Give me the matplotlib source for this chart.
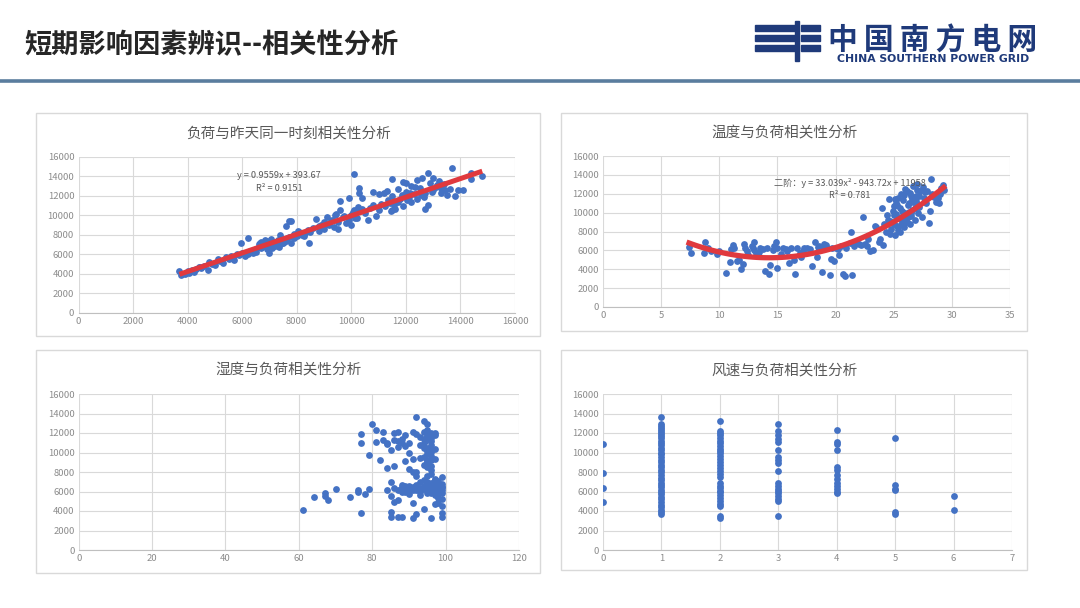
import matplotlib
matplotlib.use('Agg')
import matplotlib.pyplot as plt
import numpy as np
from matplotlib.patches import Rectangle

plt.rcParams['font.family'] = ['Noto Sans CJK SC', 'DejaVu Sans']

# ---------------- 数据 ----------------
# 负荷与昨天同一时刻
lag_x = [3700, 3750, 3800, 3900, 4000, 4050, 4150, 4250, 4300, 4400, 4500, 4600, 4750, 4800, 4900,
         5000, 5100, 5200, 5300, 5400, 5500, 5600, 5700, 5800, 5900, 5950, 6000, 6100, 6200, 6230,
         6300, 6400, 6500, 6500, 6600, 6600, 6700, 6700, 6800, 6800, 6850, 6900, 6900, 7000, 7000,
         7000, 7050, 7100, 7100, 7200, 7200, 7300, 7300, 7350, 7400, 7400, 7500, 7500, 7600, 7600,
         7700, 7800, 7700, 7800, 7900, 7900, 8000, 8100, 8200, 8300, 8400, 8450, 8500, 8600, 8700,
         8800, 8900, 9000, 9000, 9100, 9200, 9300, 9400, 9500, 9500, 9600, 9600, 9700, 9800, 9900,
         9900, 10000, 10000, 10100, 10100, 10200, 10300, 10300, 10300, 10400, 10400, 10500, 10600,
         10700, 10800, 10800, 10900, 11000, 11000, 11100, 11200, 11300, 11400, 11500, 11500, 11500,
         11600, 11700, 11700, 11800, 11900, 11900, 12000, 12000, 12100, 12200, 12200, 12300, 12400,
         12400, 12500, 12600, 12700, 12700, 12800, 12800, 12900, 13000, 13000, 13100, 13200, 13300,
         13300, 13400, 13500, 13600, 13700, 13800, 13900, 14100, 14400, 14400, 14800,
         6650, 6950, 7150, 7250, 7450, 9150, 9350, 9750, 10150, 11250, 11450, 12050, 12150, 12650,
         6750, 6900, 7050, 7200, 7350, 7550, 7650, 8050, 8250, 8800, 9250, 9450, 10050, 10250,
         11350, 11550, 11850, 12350, 12550, 13150, 13450, 12950, 5650, 5250, 4450]
lag_y = [4250, 3850, 4000, 3950, 4300, 4100, 4400, 4200, 4500, 4700, 4600, 4800, 4400, 5200, 5000,
         4900, 5500, 5300, 5100, 5700, 5500, 5800, 5400, 6000, 5900, 7200, 6100, 5800, 6000, 7650,
         6300, 6100, 6500, 6200, 6700, 7000, 7300, 6600, 7200, 6800, 7500, 6500, 7000, 7300, 6100,
         6800, 7600, 7000, 6600, 7200, 6800, 7500, 7000, 6700, 7300, 8000, 7100, 7600, 8900, 7400,
         9400, 9400, 7800, 7200, 7700, 8100, 7900, 8300, 8000, 8200, 8500, 7200, 8300, 8700, 9600,
         8400, 9000, 8600, 9300, 9800, 9000, 9500, 10000, 8600, 9300, 11500, 10500, 9800, 9200, 11800,
         9500, 10000, 9000, 14200, 10500, 9700, 12800, 12300, 10400, 11800, 10700, 10200, 9500,
         10800, 12400, 11100, 9900, 12200, 10500, 11200, 12300, 12500, 11300, 10500, 13700, 12000,
         10700, 12700, 11400, 11700, 13400, 11000, 12400, 13300, 11900, 13000, 11400, 12200, 13600,
         11700, 12800, 13800, 10700, 12300, 14400, 11100, 13300, 13800, 12600, 12900, 13500, 12300,
         12800, 13200, 12100, 12700, 14900, 12000, 12600, 12600, 14400, 13700, 14000,
         7100, 6900, 7300, 6900, 7200, 9100, 8800, 9900, 9700, 11000, 10400, 11600, 12300, 11900,
         6900, 7400, 6700, 7000, 7100, 7300, 7700, 8400, 7900, 8900, 9400, 10100, 10300, 10900,
         11600, 11100, 12100, 12900, 12100, 13100, 12600, 12400, 5700, 5300, 4700]
lag_coef = [0.9559, 393.67]

# 温度与负荷
temp_x = [7.4, 7.6, 8.7, 8.8, 9.0, 9.3, 9.8, 10.0, 10.6, 10.9, 11.2, 11.3, 11.5, 11.7, 11.9, 12.0,
          12.1, 12.2, 12.5, 12.8, 13.0, 13.0, 13.2, 13.5, 13.8, 13.9, 14.1, 14.3, 14.4, 14.7, 14.9,
          15.0, 15.0, 15.5, 15.8, 16.0, 16.2, 16.4, 16.5, 16.7, 17.0, 17.2, 17.5, 18.0, 18.2, 18.4,
          18.6, 18.8, 19.0, 19.3, 19.5, 19.6, 19.9, 20.0, 20.3, 20.5, 20.6, 20.8, 21.2, 21.3, 21.4,
          21.6, 22.0, 22.4, 22.5, 22.8, 23.0, 23.2, 23.5, 23.8, 24.0, 24.1, 24.3, 24.5, 24.6, 24.7,
          24.9, 25.0, 25.1, 25.2, 25.3, 25.4, 25.5, 25.6, 25.7, 25.8, 25.9, 26.0, 26.1, 26.2, 26.3,
          26.4, 26.5, 26.6, 26.7, 26.8, 26.9, 27.0, 27.1, 27.3, 27.4, 27.6, 27.8, 28.0, 28.1, 28.2,
          28.4, 28.6, 28.8, 29.0, 29.2, 29.3, 28.9, 25.3, 25.8, 26.2, 26.5, 24.8, 25.5, 26.0, 27.2,
          27.5, 26.8, 25.0, 24.2, 11.0, 12.4, 13.4, 15.3, 16.9, 17.8, 18.9, 19.7, 20.2, 21.8, 22.2,
          23.4, 25.1, 25.6, 26.3, 26.7, 27.0, 27.7, 28.3, 28.7, 29.1,
          24.4, 24.7, 25.0, 25.2, 25.4, 25.7, 25.9, 26.1, 26.4, 26.6, 26.9, 27.2, 27.9, 28.5, 29.0,
          25.3, 25.6, 26.0, 26.5, 27.0, 12.9, 14.6, 15.7, 17.3, 18.5, 19.2, 20.9, 22.7, 23.7]
temp_y = [6400, 5700, 5700, 6900, 6200, 5900, 5600, 5900, 3600, 4800, 6600, 6300, 4900, 5000, 4000,
          4600, 6700, 6200, 5500, 6500, 6900, 6000, 5700, 6300, 6100, 3800, 6300, 3500, 4400, 6500,
          6900, 4100, 6300, 6200, 5900, 4700, 6300, 5000, 3500, 6200, 5300, 5900, 6200, 4300, 6900,
          5300, 6500, 3700, 6700, 6300, 3400, 5100, 4900, 6300, 5500, 6500, 3500, 3300, 6800, 7900,
          3400, 6500, 6700, 9500, 6700, 7200, 5900, 6000, 8500, 7200, 10500, 6600, 8000, 9200, 11400,
          7700, 10200, 8800, 7600, 11000, 9500, 8200, 10500, 12000, 9000, 11300, 8500, 10000, 12300,
          9500, 11000, 8800, 11800, 10300, 12800, 9200, 11200, 13000, 10000, 12300, 9500, 11600, 11000,
          8900, 10200, 13600, 11800, 11100, 11500, 12200, 12900, 12400, 11000, 10800, 9800, 10800, 9600,
          8300, 8000, 12500, 11800, 12700, 10500, 9800, 8800, 6100, 5900, 5800, 5600, 5700, 6100, 6300,
          6200, 6100, 6800, 6600, 8600, 11400, 9300, 10100, 11100, 10900, 12200, 12000, 11300, 12600,
          9700, 9100, 10700, 9900, 11600, 10200, 11900, 9000, 12100, 11400, 11800, 10600, 12300,
          11700, 12000, 8600, 8700, 9200, 10000, 12400, 6200, 6000, 6100, 6300, 6400, 6600, 6200,
          6500, 6900]
temp_coef = [33.039, -943.72, 11958]

# 湿度与负荷
hum_x = [61, 64, 67, 67, 68, 70, 74, 76, 76, 77, 77, 77, 78, 79, 79, 80, 81, 81, 82, 83, 83, 84, 84,
         84, 85, 85, 85, 85, 85, 86, 86, 86, 87, 87, 87, 87, 87, 88, 88, 88, 88, 89, 89, 89, 90, 90,
         90, 90, 90, 91, 91, 91, 91, 91, 92, 92, 92, 92, 92, 93, 93, 93, 93, 94, 94, 94, 94, 94, 94,
         94, 95, 95, 95, 95, 95, 95, 95, 96, 96, 96, 96, 96, 96, 96, 97, 97, 97, 97, 97, 97, 98, 98,
         98, 98, 99, 99, 99, 99, 99, 99, 99, 99, 93, 94, 95, 95, 96, 97, 93, 94, 95, 96, 97, 98, 92,
         90, 89, 88, 92, 91, 89, 88, 86, 84, 96, 95, 96, 97, 94, 95, 96, 98, 99,
         95, 95, 95, 96, 96, 96, 96, 95, 94, 97, 97, 98, 99, 93, 92, 91, 90, 89, 88, 87, 86]
hum_y = [4100, 5400, 5800, 5500, 5100, 6300, 5400, 6200, 5900, 11900, 11000, 3800, 5700, 9700, 6300,
         12900, 12300, 11100, 9200, 12100, 11300, 10900, 8400, 6200, 10300, 7000, 5500, 3900, 3400,
         12000, 8600, 4900, 12100, 11200, 10600, 5100, 3400, 11400, 6500, 6000, 3400, 11800, 9100,
         6300, 11000, 10000, 8300, 6600, 5700, 12100, 8000, 6200, 4800, 3300, 13600, 11900, 7600,
         6700, 3700, 11600, 9400, 6000, 5600, 13200, 12100, 10500, 8700, 7200, 6300, 4200, 12900,
         11300, 9800, 8500, 7000, 6500, 5800, 12000, 10800, 9200, 7800, 6900, 6100, 3300, 11800,
         10400, 9300, 6800, 5600, 4700, 6700, 6200, 5300, 4800, 7500, 6800, 6200, 5800, 5200, 4500,
         3800, 3400, 10800, 9500, 10200, 11700, 11500, 12000, 7000, 6600, 6200, 5800, 6300, 5700,
         6200, 6100, 5900, 6700, 8000, 9300, 10700, 11000, 11300, 11000, 8600, 9000, 10100, 7300,
         11400, 7600, 6400, 6500, 6500,
         10500, 9200, 8900, 10300, 9600, 8200, 11200, 12300, 11000, 6000, 7200, 7100, 6500, 6400,
         6300, 6500, 6400, 6600, 6300, 6200, 6400]

# 风速与负荷
wind_x = [0, 0, 0, 0,
          1, 1, 1, 1, 1, 1, 1, 1, 1, 1, 1, 1, 1, 1, 1, 1, 1, 1, 1, 1, 1, 1, 1, 1, 1, 1, 1, 1, 1, 1,
          1, 1, 1, 1, 1, 1, 1, 1, 1, 1,
          2, 2, 2, 2, 2, 2, 2, 2, 2, 2, 2, 2, 2, 2, 2, 2, 2, 2, 2, 2, 2, 2, 2, 2, 2, 2, 2, 2, 2, 2, 2,
          3, 3, 3, 3, 3, 3, 3, 3, 3, 3, 3, 3, 3, 3, 3, 3, 3, 3, 3,
          4, 4, 4, 4, 4, 4, 4, 4, 4, 4, 4, 4, 4,
          5, 5, 5, 5, 5, 5,
          6, 6]
wind_y = [10900, 7900, 6400, 4900,
          13600, 12900, 12700, 12500, 12300, 12100, 11900, 11700, 11500, 11200, 11000, 10800, 10500,
          10300, 10000, 9800, 9500, 9200, 9000, 8700, 8500, 8200, 8000, 7700, 7400, 7200, 6900, 6700,
          6500, 6200, 6000, 5700, 5400, 5200, 4900, 4600, 4400, 4100, 3900, 3700,
          13200, 12200, 12000, 11800, 11500, 11200, 11000, 10700, 10400, 10200, 9900, 9600, 9300, 9000,
          8700, 8400, 8100, 7800, 7500, 6900, 6600, 6400, 6100, 5900, 5600, 5300, 5000, 4700, 4500,
          3500, 3300,
          12900, 12200, 11800, 11400, 11100, 10300, 9500, 9200, 8900, 8100, 6900, 6600, 6300, 6100,
          5800, 5500, 5200, 5000, 3500,
          12300, 11100, 10900, 10300, 8500, 8200, 7700, 7300, 6900, 6600, 6300, 6000, 5800,
          11500, 6700, 6300, 6200, 3900, 3700,
          5500, 4100]

y_ticks = [0, 2000, 4000, 6000, 8000, 10000, 12000, 14000, 16000]

W, H = 1080, 608
dot_color = '#4472C4'
fit_color = '#E0393E'
text_gray = '#595959'
tick_gray = '#8C8C8C'
grid_gray = '#D9D9D9'

fig = plt.figure(figsize=(W / 100, H / 100), dpi=100)
fig.patch.set_facecolor('white')


def box(x0, y0, x1, y1):
    # 像素坐标 -> figure 比例
    return [x0 / W, 1 - y1 / H, (x1 - x0) / W, (y1 - y0) / H]


# ---------------- 页眉 ----------------
fig.text(24 / W, 1 - 45 / H, '短期影响因素辨识--相关性分析', fontsize=19.6, fontweight='bold',
         color='#262626', ha='left', va='center')
fig.add_artist(plt.Line2D([0, 1], [1 - 81 / H, 1 - 81 / H], color='#5A7D9E', lw=2.6,
                          transform=fig.transFigure))

# 南方电网 logo
navy = '#1F3A7A'
for yy in [25, 35, 45]:
    fig.add_artist(Rectangle((755 / W, 1 - (yy + 6) / H), 40 / W, 6 / H, color=navy,
                             transform=fig.transFigure))
    fig.add_artist(Rectangle((801 / W, 1 - (yy + 6) / H), 19 / W, 6 / H, color=navy,
                             transform=fig.transFigure))
fig.add_artist(Rectangle((795 / W, 1 - 61 / H), 4 / W, 40 / H, color=navy,
                         transform=fig.transFigure))
fig.text(933 / W, 1 - 41 / H, '中\u2009国\u2009南\u2009方\u2009电\u2009网', fontsize=21.5,
         fontweight='bold', color=navy, ha='center', va='center',
         family=['Noto Sans CJK SC', 'DejaVu Sans'])
fig.text(933 / W, 1 - 59.5 / H, 'CHINA SOUTHERN POWER GRID', fontsize=7.8, fontweight='bold',
         color=navy, ha='center', va='center', family='DejaVu Sans')

# ---------------- 四个面板 ----------------
panels = [
    dict(frame=(36, 113, 540, 336), ax=(78.5, 157, 515, 312.5), title='负荷与昨天同一时刻相关性分析',
         tx=289, ty=133, x=lag_x, y=lag_y, xlim=16000, xstep=2000),
    dict(frame=(561, 113, 1027, 331), ax=(603, 156, 1010, 307), title='温度与负荷相关性分析',
         tx=785, ty=133, x=temp_x, y=temp_y, xlim=35, xstep=5),
    dict(frame=(36, 350, 540, 573), ax=(78.7, 394, 519, 550), title='湿度与负荷相关性分析',
         tx=289, ty=370, x=hum_x, y=hum_y, xlim=120, xstep=20),
    dict(frame=(561, 350, 1027, 570), ax=(603, 394, 1012, 550), title='风速与负荷相关性分析',
         tx=785, ty=370, x=wind_x, y=wind_y, xlim=7, xstep=1),
]

axes = []
for p in panels:
    fx0, fy0, fx1, fy1 = p['frame']
    fig.add_artist(Rectangle((fx0 / W, 1 - fy1 / H), (fx1 - fx0) / W, (fy1 - fy0) / H,
                             fill=False, edgecolor=grid_gray, lw=1.0, transform=fig.transFigure))
    fig.text(p['tx'] / W, 1 - p['ty'] / H, p['title'], fontsize=10.5, color=text_gray,
             ha='center', va='center')

    ax = fig.add_axes(box(*p['ax']))
    ax.scatter(p['x'], p['y'], s=24, color=dot_color, linewidths=0, zorder=3)
    ax.set_xlim(0, p['xlim'])
    ax.set_ylim(0, 16000)
    ax.set_xticks(np.arange(0, p['xlim'] + p['xstep'] / 2, p['xstep']))
    ax.set_yticks(y_ticks)
    ax.grid(True, color=grid_gray, lw=0.8, zorder=0)
    ax.set_axisbelow(True)
    for s in ['top', 'right', 'left']:
        ax.spines[s].set_visible(False)
    ax.spines['bottom'].set_color('#BFBFBF')
    ax.tick_params(length=0, labelsize=6.8, colors=tick_gray, pad=3)
    ax.set_facecolor('white')
    axes.append(ax)

# 趋势线
ax1 = axes[0]
xs = np.linspace(min(lag_x), max(lag_x), 50)
ax1.plot(xs, np.polyval(lag_coef, xs), color=fit_color, lw=3.6, zorder=4, solid_capstyle='butt')
ax1.text(7350, 14100, 'y = 0.9559x + 393.67', fontsize=6.6, color=text_gray, ha='center',
         va='center', zorder=5)
ax1.text(7350, 12750, 'R² = 0.9151', fontsize=6.6, color=text_gray, ha='center', va='center',
         zorder=5)

ax2 = axes[1]
ts = np.linspace(min(temp_x), max(temp_x), 80)
ax2.plot(ts, np.polyval(temp_coef, ts), color=fit_color, lw=3.8, zorder=4)
ax2.text(21.2, 13150, '二阶：y = 33.039x² - 943.72x + 11958', fontsize=6.6, color=text_gray,
         ha='center', va='center', zorder=5)
ax2.text(21.2, 11850, 'R² = 0.781', fontsize=6.6, color=text_gray, ha='center', va='center',
         zorder=5)

fig.savefig('out.png', dpi=100, facecolor='white')
